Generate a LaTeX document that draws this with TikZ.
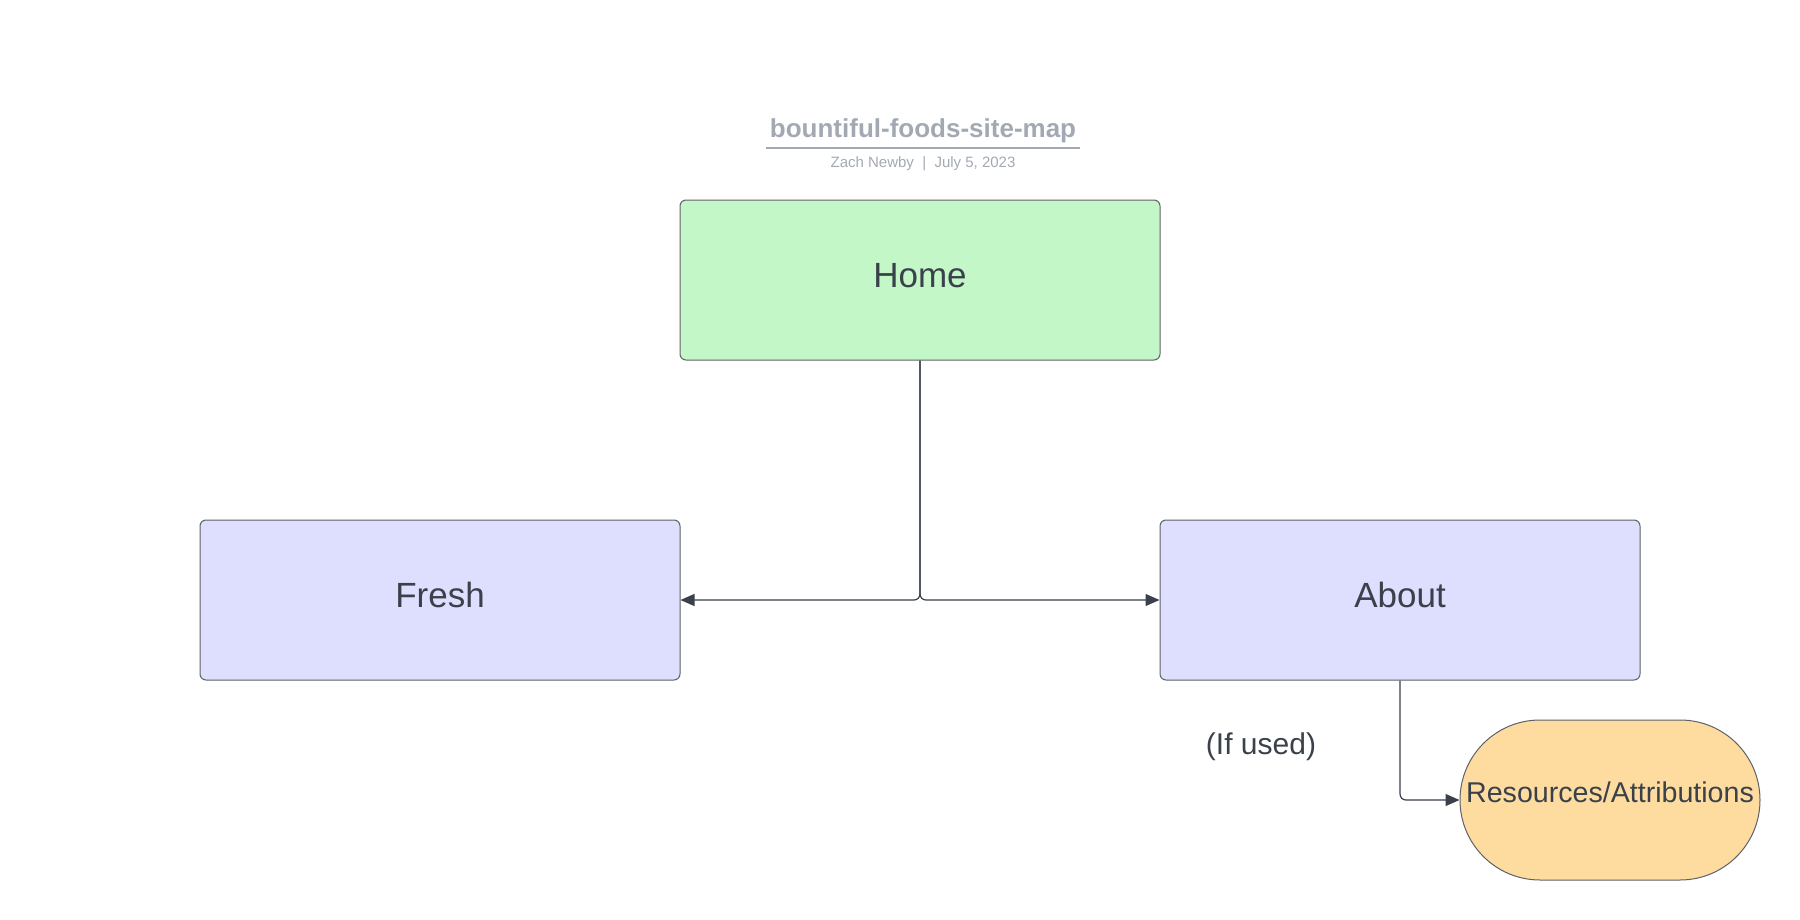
\documentclass[tikz,border=0pt]{standalone}
\usepackage{fontspec}
\setmainfont{Liberation Sans}
\usetikzlibrary{arrows.meta}
\definecolor{homegreen}{HTML}{C3F7C8}
\definecolor{pagelav}{HTML}{DEDEFF}
\definecolor{resorange}{HTML}{FEDC9F}
\definecolor{edgegray}{HTML}{5E6168}
\definecolor{textgray}{HTML}{3A414A}
\definecolor{titlegray}{HTML}{A3A9B3}

\begin{document}
\begin{tikzpicture}[x=0.5pt,y=-0.5pt,
	page/.style={draw=edgegray, line width=0.5pt, rounded corners=3pt, minimum width=240pt, minimum height=80pt, text depth=5pt, text=textgray, font=\fontsize{17.5}{20}\selectfont},
	link/.style={draw=textgray, line width=0.6pt, rounded corners=3pt, -{Triangle[length=7pt,width=6pt]}}]
		\useasboundingbox (0,0) rectangle (1800,920);

		\node[text=titlegray, font=\bfseries\fontsize{13}{15}\selectfont, inner sep=2pt] at (923,131)(title){bountiful-foods-site-map};
		\draw[titlegray, line width=1pt] (title.south west)--(title.south east);
		\node[text=titlegray, font=\fontsize{7.5}{9}\selectfont] at (923,164)(byline){Zach Newby~~|~~July 5, 2023};

		\node[page, fill=homegreen] at (920,280)(home){Home};
		\node[page, fill=pagelav] at (440,600)(fresh){Fresh};
		\node[page, fill=pagelav] at (1400,600)(about){About};
		\node[page, fill=resorange, rounded corners=40pt, minimum width=150pt, inner sep=0pt, text depth=8pt, font=\fontsize{14.3}{16}\selectfont] at (1610,800)(res){Resources/Attributions};
		\node[text=textgray, font=\fontsize{15}{17}\selectfont] at (1261,747)(ifused){(If used)};

		\draw[link] (home.south) |- (fresh.east);
		\draw[link] (home.south) |- (about.west);
		\draw[link] (about.south) |- (res.west);
	\end{tikzpicture}
\end{document}
